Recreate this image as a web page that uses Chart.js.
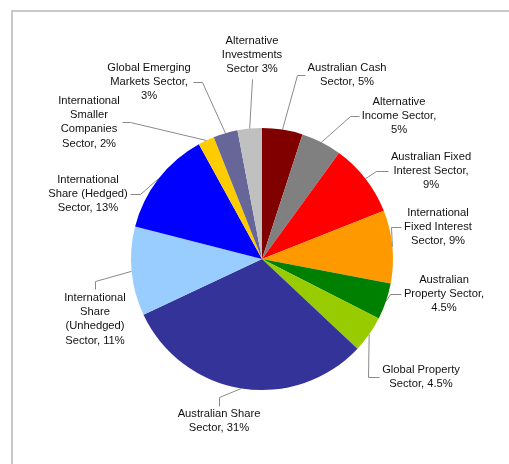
<!DOCTYPE html>
<html>
<head>
<meta charset="utf-8">
<script src="https://cdn.jsdelivr.net/npm/chart.js@4"></script>
<style>
  html, body { margin: 0; padding: 0; background: #fff; overflow: hidden; }
  #frame { position: absolute; left: 11px; top: 10px; width: 530px; height: 480px; border: 2px solid #c8c8c8; }
  #wrap { position: absolute; left: 0; top: 0; width: 509px; height: 464px; }
</style>
</head>
<body>
<div id="frame"></div>
<div id="wrap"><canvas id="chartCanvas" width="509" height="464"></canvas></div>
<script>
// sectors, clockwise from 12 o'clock
var categories = [
    "Australian Cash Sector",
    "Alternative Income Sector",
    "Australian Fixed Interest Sector",
    "International Fixed Interest Sector",
    "Australian Property Sector",
    "Global Property Sector",
    "Australian Share Sector",
    "International Share (Unhedged) Sector",
    "International Share (Hedged) Sector",
    "International Smaller Companies Sector",
    "Global Emerging Markets Sector",
    "Alternative Investments Sector"
];
var shares = [5, 5, 9, 9, 4.5, 4.5, 31, 11, 13, 2, 3, 3];
var sliceColors = ["#800000", "#808080", "#ff0000", "#ff9900", "#008000", "#99cc00",
                   "#333399", "#99ccff", "#0000ff", "#ffcc00", "#666699", "#c0c0c0"];

// how each label wraps, {v} is the share
var labelLines = [
    ["Australian Cash", "Sector, {v}%"],
    ["Alternative", "Income Sector,", "{v}%"],
    ["Australian Fixed", "Interest Sector,", "{v}%"],
    ["International", "Fixed Interest", "Sector, {v}%"],
    ["Australian", "Property Sector,", "{v}%"],
    ["Global Property", "Sector, {v}%"],
    ["Australian Share", "Sector, {v}%"],
    ["International", "Share", "(Unhedged)", "Sector, {v}%"],
    ["International", "Share (Hedged)", "Sector, {v}%"],
    ["International", "Smaller", "Companies", "Sector, {v}%"],
    ["Global Emerging", "Markets Sector,", "{v}%"],
    ["Alternative", "Investments", "Sector {v}%"]
];

// label box centre relative to pie centre, side the leader joins, elbow length
var labelPlaces = [
    [85, -184, "left", 8],
    [137, -143, "left", 9],
    [169, -88, "left", 12],
    [176, -32, "left", 10],
    [182, 35, "left", 11],
    [159, 118, "left", 11],
    [-43, 162, "top", 9],
    [-167, 60, "top", 8],
    [-174, -65, "right", 10],
    [-173, -137, "right", 8],
    [-113, -177, "right", 9],
    [-10, -204, "bottom", 0]
];

var lineH = 14.3;

var outsideLabels = {
    id: "outsideLabels",
    afterDatasetsDraw: function (chart) {
        var ctx = chart.ctx;
        var arcs = chart.getDatasetMeta(0).data;
        ctx.save();
        ctx.font = '11.2px "Liberation Sans", Arial, sans-serif';
        ctx.textAlign = "center";
        ctx.textBaseline = "middle";
        for (var i = 0; i < arcs.length; i++) {
            var p = arcs[i].getProps(["x", "y", "startAngle", "endAngle", "outerRadius"], true);
            var mid = (p.startAngle + p.endAngle) / 2;
            var ex = p.x + Math.cos(mid) * p.outerRadius;
            var ey = p.y + Math.sin(mid) * p.outerRadius;
            var place = labelPlaces[i];
            var cx = p.x + place[0], cy = p.y + place[1];
            var lines = labelLines[i].map(function (s) { return s.replace("{v}", shares[i]); });
            var w = 0;
            lines.forEach(function (l) { w = Math.max(w, ctx.measureText(l).width); });
            var h = lines.length * lineH;
            var ax, ay, bx, by;
            if (place[2] == "left") { ax = cx - w / 2 - 3; ay = cy; bx = ax - place[3]; by = ay; }
            else if (place[2] == "right") { ax = cx + w / 2 + 2; ay = cy; bx = ax + place[3]; by = ay; }
            else if (place[2] == "top") { ax = cx; ay = cy - h / 2 - 1; bx = ax; by = ay - place[3]; }
            else { ax = cx; ay = cy + h / 2 + 3; bx = ax; by = ay + place[3]; }
            ctx.strokeStyle = "#8a8a8a";
            ctx.lineWidth = 1;
            ctx.beginPath();
            ctx.moveTo(ex, ey);
            ctx.lineTo(Math.round(bx) + 0.5, Math.round(by) + 0.5);
            ctx.lineTo(Math.round(ax) + 0.5, Math.round(ay) + 0.5);
            ctx.stroke();
            ctx.fillStyle = "#111";
            for (var k = 0; k < lines.length; k++) {
                ctx.fillText(lines[k], cx, cy - h / 2 + lineH * (k + 0.5));
            }
        }
        ctx.restore();
    }
};

new Chart(document.getElementById("chartCanvas"), {
    type: "pie",
    data: {
        labels: categories,
        datasets: [{
            data: shares,
            backgroundColor: sliceColors,
            borderWidth: 0
        }]
    },
    options: {
        responsive: false,
        animation: false,
        layout: { padding: { left: 131, right: 116, top: 128, bottom: 74 } },
        plugins: {
            legend: { display: false },
            tooltip: { enabled: false }
        }
    },
    plugins: [outsideLabels]
});
</script>
</body>
</html>
